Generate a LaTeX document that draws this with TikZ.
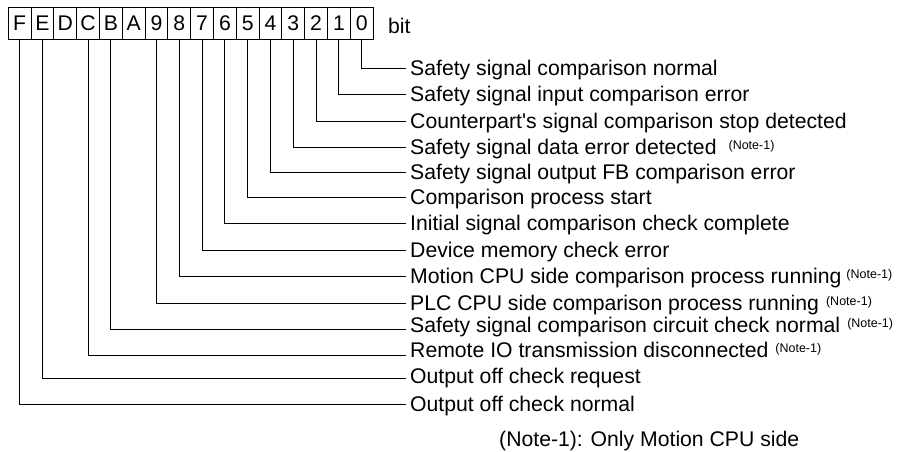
\documentclass[tikz,border=0pt]{standalone}
\usepackage{fontspec}
\setmainfont{Liberation Sans}
\newcommand\notemark[1][7pt]{\hspace{#1}\raisebox{5.5pt}{\fontsize{12.5}{14}\selectfont (Note-1)}}
\tikzset{
  cell/.style={draw, line width=1pt, minimum width=22.8pt, minimum height=31.5pt,
    inner sep=0pt, text height=15pt, text depth=0pt, font=\fontsize{21.2}{25}\selectfont},
  lab/.style={anchor=west, inner xsep=4pt, inner ysep=0pt, text height=15.2pt,
    text depth=0pt, font=\fontsize{21.2}{25}\selectfont},
  conn/.style={line width=1pt, line join=miter},
  plain/.style={anchor=base west, inner sep=0pt, font=\fontsize{21.2}{25}\selectfont}
}
\begin{document}
\begin{tikzpicture}[x=1pt,y=-1pt]
\useasboundingbox (0,0) rectangle (908,451);
\foreach \n [count=\i from 0] in {F,E,D,C,B,A,9,8,7,6,5,4,3,2,1,0}
  \node[cell] (c\n) at ({8.3+(\i+0.5)*22.8},23.25) {\n};
\node[plain] (bitlab) at (388,33) {bit};
% row ends
\coordinate (e0) at (406,68);
\coordinate (e1) at (406,94);
\coordinate (e2) at (406,121);
\coordinate (e3) at (406,147);
\coordinate (e4) at (406,172);
\coordinate (e5) at (406,197);
\coordinate (e6) at (406,223);
\coordinate (e7) at (406,250);
\coordinate (e8) at (406,276);
\coordinate (e9) at (406,303);
\coordinate (eB) at (406,329);
\coordinate (eC) at (406,355);
\coordinate (eE) at (406,378);
\coordinate (eF) at (406,404);
% labels
\node[lab] (t0) at (e0) {Safety signal comparison normal};
\node[lab] (t1) at (e1) {Safety signal input comparison error};
\node[lab] (t2) at (e2) {Counterpart\textquotesingle s signal comparison stop detected};
\node[lab] (t3) at (e3) {Safety signal data error detected\notemark[12pt]};
\node[lab] (t4) at (e4) {Safety signal output FB comparison error};
\node[lab] (t5) at (e5) {Comparison process start};
\node[lab] (t6) at (e6) {Initial signal comparison check complete};
\node[lab] (t7) at (e7) {Device memory check error};
\node[lab] (t8) at (e8) {Motion CPU side comparison process running\notemark[5pt]};
\node[lab] (t9) at (e9) {PLC CPU side comparison process running\notemark};
\node[lab, yshift=4pt] (tB) at (eB) {Safety signal comparison circuit check normal\notemark};
\node[lab, yshift=5pt] (tC) at (eC) {Remote IO transmission disconnected\notemark};
\node[lab, yshift=2pt] (tE) at (eE) {Output off check request};
\node[lab] (tF) at (eF) {Output off check normal};
% connectors
\foreach \b in {0,1,2,3,4,5,6,7,8,9,B,C,E,F}
  \draw[conn] (c\b.south) |- (e\b);
\node[plain] (note) at (499,446) {(Note-1): Only Motion CPU side};
\end{tikzpicture}
\end{document}
